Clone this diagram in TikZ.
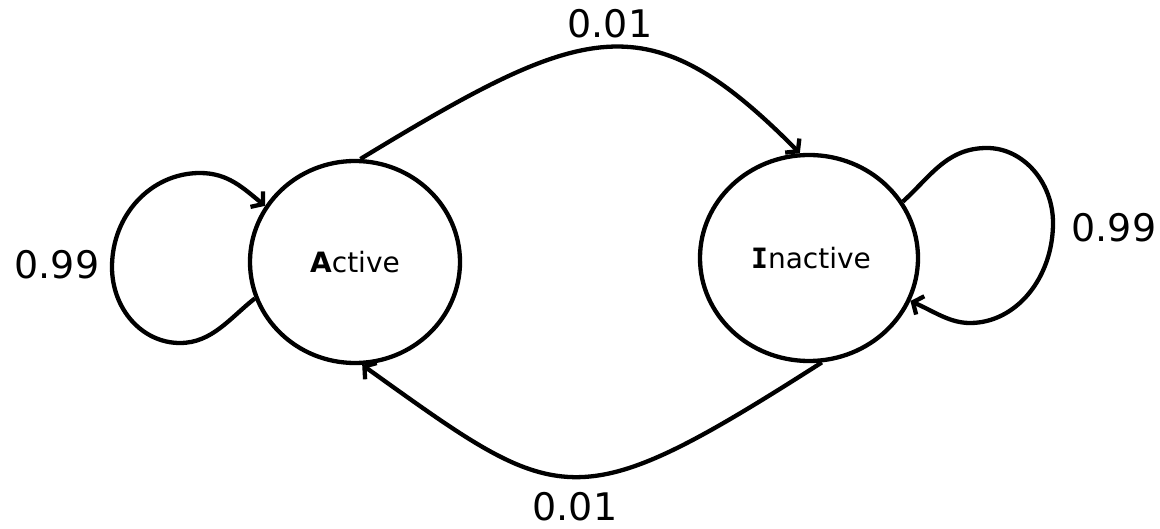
\documentclass[tikz,border=0pt]{standalone}
\usepackage{fontspec}
\setmainfont{DejaVu Sans}
\newfontfamily\serifI{DejaVu Sans Mono}
\usetikzlibrary{arrows.meta,shapes.geometric}

\begin{document}
\begin{tikzpicture}[x=1pt,y=-1pt,
  state/.style={draw,ellipse,line width=4.3pt,inner sep=0pt},
  edge/.style={line width=4.3pt,-{Straight Barb[length=8pt,width=20pt]}},
  prob/.style={font=\fontsize{38}{40}\selectfont,inner sep=0pt},
  statename/.style={font=\fontsize{28}{30}\selectfont}]
\useasboundingbox (0,0) rectangle (1160,529);

% the two states
\node[state,minimum width=210pt,minimum height=202pt] (A) at (355,262) {};
\node[state,minimum width=218pt,minimum height=206pt] (I) at (809,258) {};
\node[statename] (At) at (355,262) {\textbf{A}ctive};
\node[statename] (It) at (811,258) {{\serifI\bfseries I}nactive};

% transitions between the states
\draw[edge] (A.87) .. controls (586,22) and (648,0) .. (I.95);
\draw[edge] (I.277) .. controls (572,522) and (561,507) .. (A.-86);

% self loop on Active
\coordinate (Lb) at (180,343);
\coordinate (Ll) at (112,267);
\coordinate (Lt) at (200,173);
\draw[edge] (A.200) .. controls (230,318) and (212,343) .. (Lb)
                    .. controls (142,343) and (112,309) .. (Ll)
                    .. controls (112,215) and (151,173) .. (Lt)
                    .. controls (228,173) and (243,188) .. (A.148);

% self loop on Inactive
\coordinate (Rt) at (987,148);
\coordinate (Rr) at (1053,223);
\coordinate (Rb) at (970,323);
\draw[edge] (I.31) .. controls (931,176) and (947,148) .. (Rt)
                   .. controls (1023,148) and (1053,182) .. (Rr)
                   .. controls (1053,278) and (1016,323) .. (Rb)
                   .. controls (950,323) and (935,312) .. (I.-23);

% transition probabilities
\node[prob] (pt) at (610,24) {0.01};
\node[prob] (pb) at (575,507) {0.01};
\node[prob] (pl) at (57,265) {0.99};
\node[prob] (pr) at (1114,228) {0.99};
\end{tikzpicture}
\end{document}
